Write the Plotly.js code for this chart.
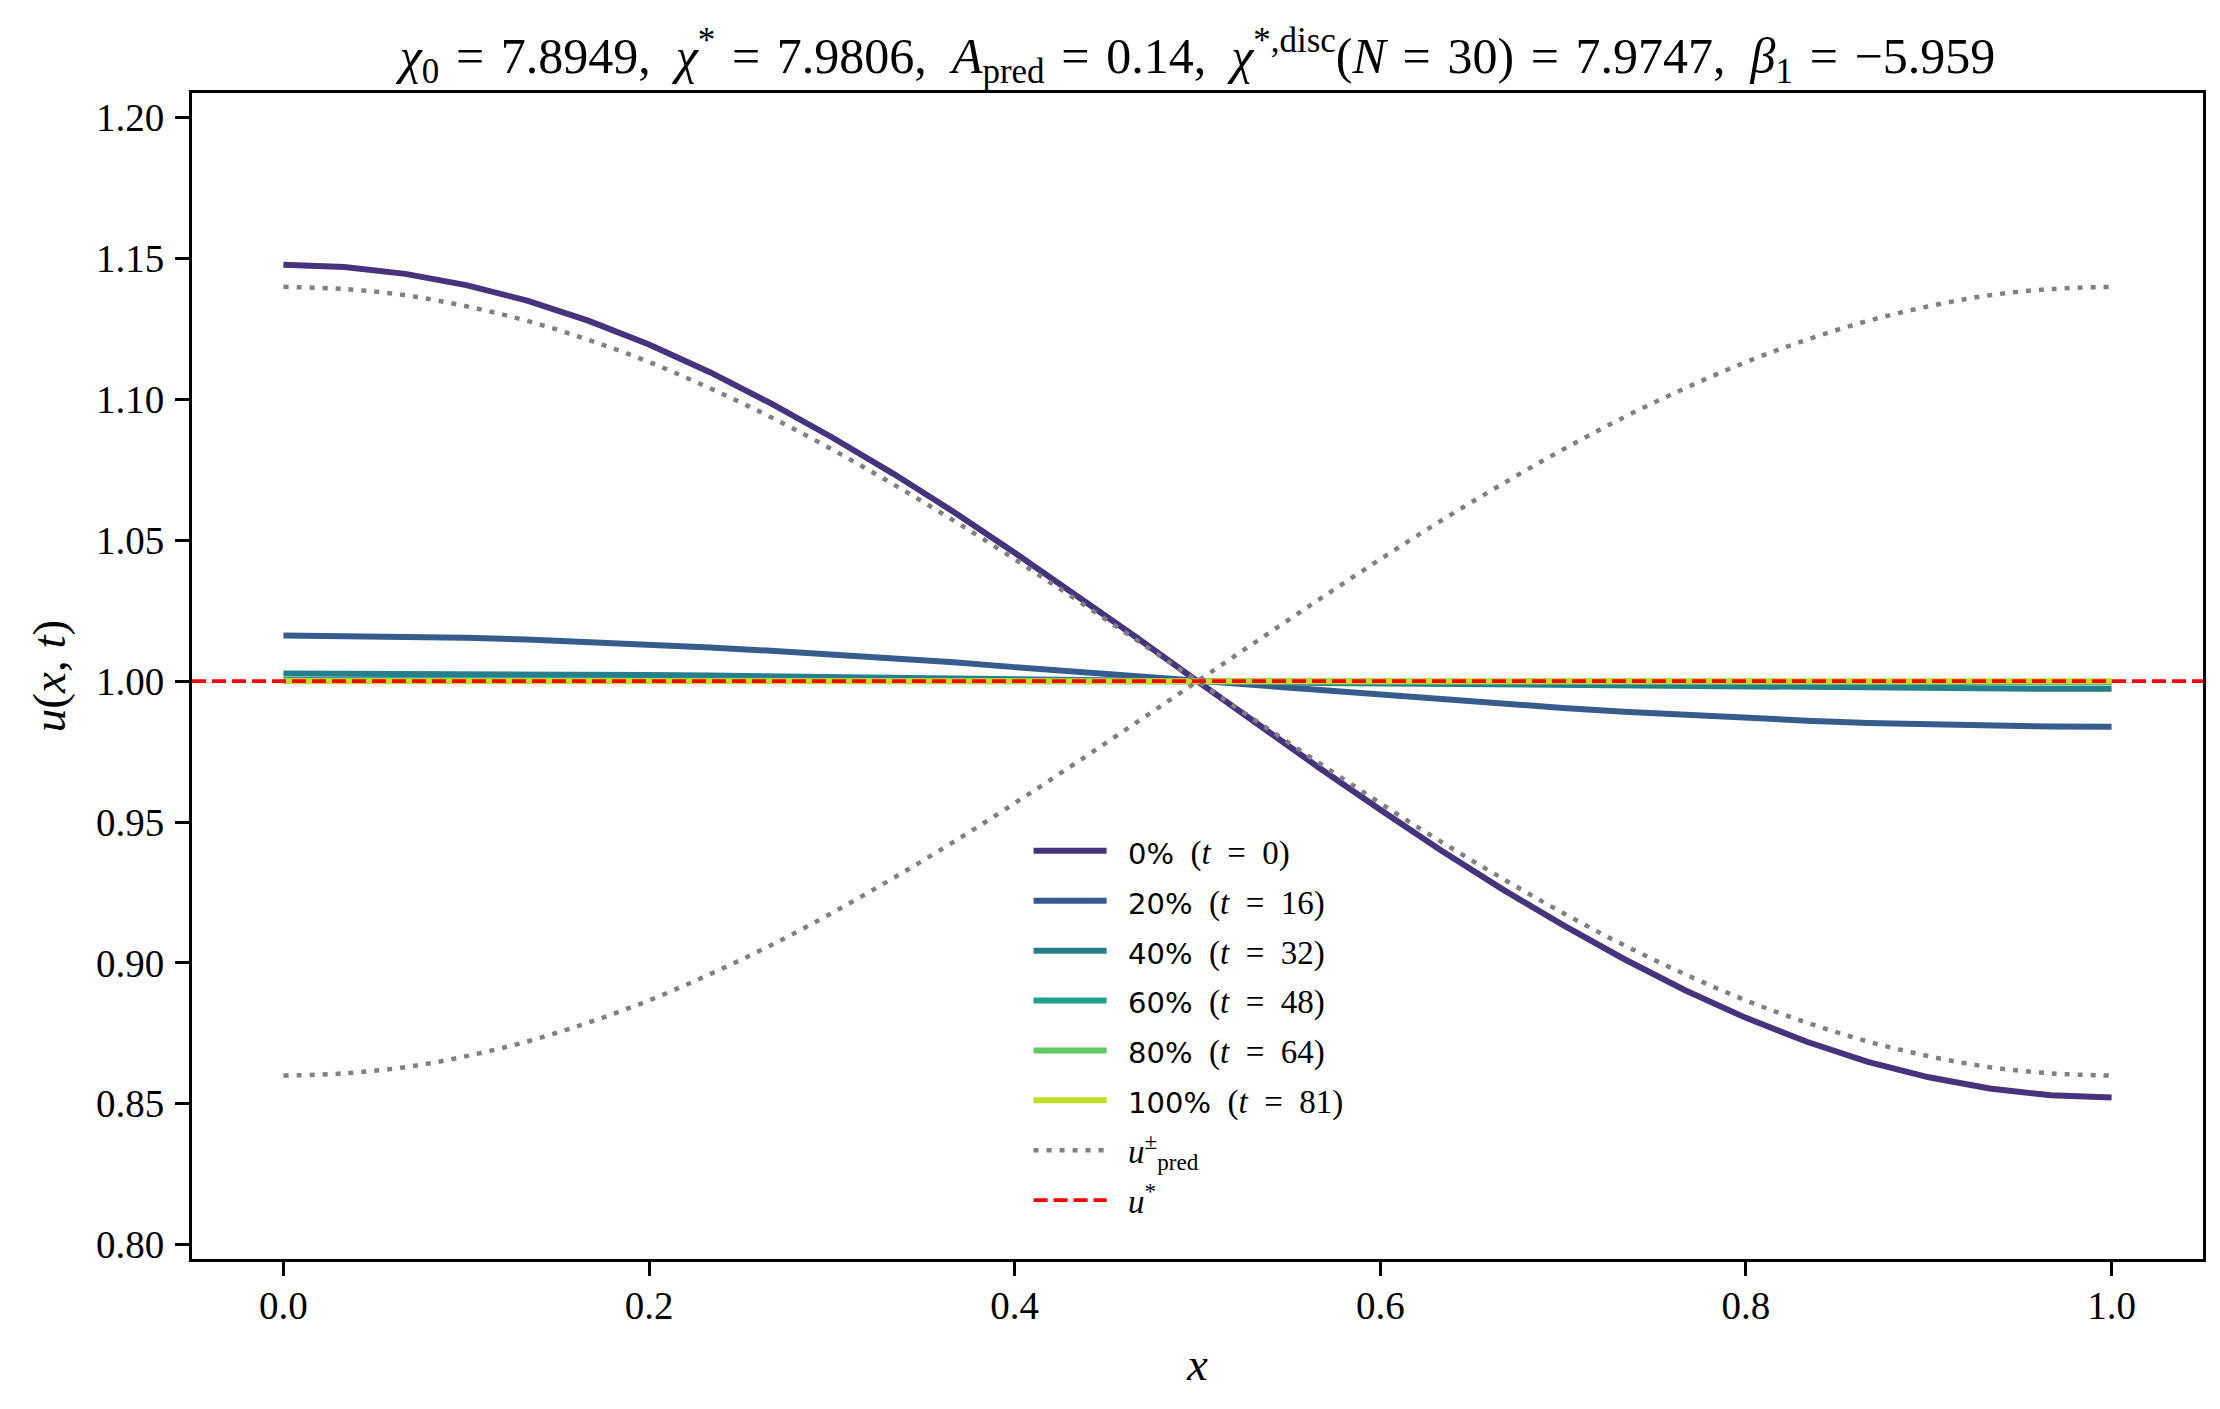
<!DOCTYPE html>
<html>
<head>
<meta charset="utf-8">
<script src="https://cdn.plot.ly/plotly-3.0.1.min.js"></script>
<style>body{margin:0;background:#fff}</style>
</head>
<body>
<div id="grafico" style="width:2220px;height:1409px"></div>
<script>
// pontos da malha (N = 30)
const xs = [0.0000,0.0333,0.0667,0.1000,0.1333,0.1667,0.2000,0.2333,0.2667,0.3000,
  0.3333,0.3667,0.4000,0.4333,0.4667,0.5000,0.5333,0.5667,0.6000,0.6333,
  0.6667,0.7000,0.7333,0.7667,0.8000,0.8333,0.8667,0.9000,0.9333,0.9667,1.0000];

// perfis u(x,t)
const u0 = [1.1478,1.1470,1.1446,1.1406,1.1351,1.1280,1.1195,1.1097,1.0986,1.0866,
  1.0738,1.0601,1.0456,1.0308,1.0155,1.0000,0.9845,0.9692,0.9544,0.9399,
  0.9262,0.9134,0.9014,0.8903,0.8805,0.8720,0.8649,0.8594,0.8554,0.8530,0.8522];
const u20 = [1.0162,1.0161,1.0158,1.0154,1.0148,1.0140,1.0131,1.0120,1.0108,1.0095,
  1.0081,1.0067,1.0050,1.0034,1.0017,1.0000,0.9983,0.9966,0.9950,0.9933,
  0.9919,0.9905,0.9892,0.9880,0.9869,0.9860,0.9852,0.9846,0.9842,0.9839,0.9838];
const u40 = [1.0027,1.0027,1.0026,1.0026,1.0025,1.0023,1.0022,1.0020,1.0018,1.0016,
  1.0013,1.0011,1.0008,1.0006,1.0003,1.0000,0.9997,0.9994,0.9992,0.9989,
  0.9987,0.9984,0.9982,0.9980,0.9978,0.9977,0.9975,0.9974,0.9974,0.9973,0.9973];
const u60 = [1.0004,1.0004,1.0004,1.0004,1.0004,1.0003,1.0003,1.0003,1.0003,1.0002,
  1.0002,1.0002,1.0001,1.0001,1.0000,1.0000,1.0000,0.9999,0.9999,0.9998,
  0.9998,0.9998,0.9997,0.9997,0.9997,0.9997,0.9996,0.9996,0.9996,0.9996,0.9996];
const u80 = [1.0001,1.0001,1.0001,1.0001,1.0001,1.0001,1.0001,1.0000,1.0000,1.0000,
  1.0000,1.0000,1.0000,1.0000,1.0000,1.0000,1.0000,1.0000,1.0000,1.0000,
  1.0000,1.0000,1.0000,1.0000,0.9999,0.9999,0.9999,0.9999,0.9999,0.9999,0.9999];
const u100 = [1.0000,1.0000,1.0000,1.0000,1.0000,1.0000,1.0000,1.0000,1.0000,1.0000,
  1.0000,1.0000,1.0000,1.0000,1.0000,1.0000,1.0000,1.0000,1.0000,1.0000,
  1.0000,1.0000,1.0000,1.0000,1.0000,1.0000,1.0000,1.0000,1.0000,1.0000,1.0000];

// envelopes previstos u_pred +/-
const uMais = [1.1400,1.1392,1.1370,1.1331,1.1279,1.1212,1.1133,1.1040,1.0937,1.0823,
  1.0700,1.0570,1.0433,1.0291,1.0146,1.0000,0.9854,0.9709,0.9567,0.9430,
  0.9300,0.9177,0.9063,0.8960,0.8867,0.8788,0.8721,0.8669,0.8630,0.8608,0.8600];
const uMenos = [0.8600,0.8608,0.8630,0.8669,0.8721,0.8788,0.8867,0.8960,0.9063,0.9177,
  0.9300,0.9430,0.9567,0.9709,0.9854,1.0000,1.0146,1.0291,1.0433,1.0570,
  1.0700,1.0823,1.0937,1.1040,1.1133,1.1212,1.1279,1.1331,1.1370,1.1392,1.1400];
const uStar = 1.0;

const percentuais = ["0%", "20%", "40%", "60%", "80%", "100%"];
const tempos = [0, 16, 32, 48, 64, 81];
const perfis = [u0, u20, u40, u60, u80, u100];
const cores = ["#46337e", "#365c8d", "#277f8e", "#1fa187", "#5ec962", "#bddf26"];

const xFaixa = [-0.05, 1.05];
const yFaixa = [0.7949, 1.2088];
const xTicks = [0, 0.2, 0.4, 0.6, 0.8, 1.0];
const xTickTxt = ["0.0", "0.2", "0.4", "0.6", "0.8", "1.0"];
const yTicks = [0.80, 0.85, 0.90, 0.95, 1.00, 1.05, 1.10, 1.15, 1.20];
const yTickTxt = ["0.80", "0.85", "0.90", "0.95", "1.00", "1.05", "1.10", "1.15", "1.20"];

// espaco em volta do "=" (como no modo matematico)
const IG = "\u2002=\u2002";
const IGt = "\u2004=\u2004";
const titulo = "<i>χ</i><sub>0</sub>" + IGt + "7.8949,\u2002<i>χ</i><sup>*</sup>" + IGt + "7.9806,\u2002" +
  "<i>A</i><sub>pred</sub>" + IGt + "0.14,\u2002<i>χ</i><sup>*,disc</sup>(<i>N</i>" + IGt + "30)" + IGt + "7.9747,\u2002" +
  "<i>β</i><sub>1</sub>" + IGt + "−5.959";

//=========================== tracos ===========================
var data = [];
perfis.forEach((p, i) => {
  data.push({
    x: xs, y: p, mode: "lines", type: "scatter",
    line: {color: cores[i], width: 6},
    name: '\u2002<span style="font-family:DejaVu Sans;font-size:29px">' + percentuais[i] +
      '</span>\u2002(<i>t</i>' + IG + tempos[i] + ')',
    legendgroup: "g" + i
  });
});

data.push({
  x: xs, y: uMais, mode: "lines", type: "scatter",
  line: {color: "#808080", width: 4.5, dash: "5px,8px", shape: "spline"},
  name: "\u2002<i>u</i><sup>±</sup><sub>pred</sub>", legendgroup: "pred"
});
data.push({
  x: xs, y: uMenos, mode: "lines", type: "scatter",
  line: {color: "#808080", width: 4.5, dash: "5px,8px", shape: "spline"},
  showlegend: false, legendgroup: "pred"
});
data.push({
  x: xFaixa, y: [uStar, uStar], mode: "lines", type: "scatter",
  line: {color: "#ff0000", width: 3.8, dash: "14px,6px"},
  name: "\u2002<i>u</i><sup>*</sup>", legendgroup: "star"
});

//=========================== layout ===========================
var eixo = {
  showline: true, linewidth: 3, linecolor: "black", mirror: true,
  ticks: "outside", ticklen: 14, tickwidth: 3, tickcolor: "black",
  showgrid: false, zeroline: false, automargin: false
};

var layout = {
  width: 2220, height: 1409,
  margin: {l: 192, r: 17, t: 93, b: 150},
  paper_bgcolor: "white", plot_bgcolor: "white",
  font: {family: "Liberation Serif", size: 39, color: "black"},
  title: {
    text: titulo, font: {size: 50},
    xref: "paper", x: 0.5, xanchor: "center",
    yref: "container", y: 1 - 55 / 1409, yanchor: "middle"
  },
  xaxis: Object.assign({}, eixo, {
    range: xFaixa, tickvals: xTicks, ticktext: xTickTxt, ticklabelstandoff: -4,
    title: {text: "<i>x</i>", standoff: 22}
  }),
  yaxis: Object.assign({}, eixo, {
    range: yFaixa, tickvals: yTicks, ticktext: yTickTxt, ticklabelstandoff: 3,
    title: {text: "<i>u</i>(<i>x</i>, <i>t</i>)", standoff: 16}
  }),
  showlegend: true,
  legend: {
    x: 0.416, y: 0.374, xanchor: "left", yanchor: "top",
    bgcolor: "rgba(0,0,0,0)", borderwidth: 0,
    font: {size: 33},
    traceorder: "grouped", tracegroupgap: 4,
    itemwidth: 73
  }
};

Plotly.newPlot("grafico", data, layout, {staticPlot: true});
</script>
</body>
</html>
